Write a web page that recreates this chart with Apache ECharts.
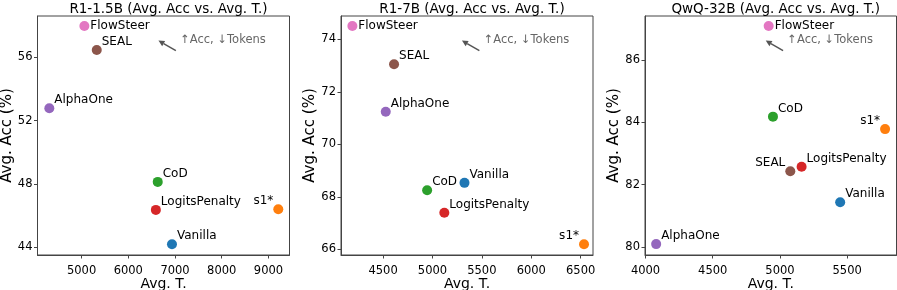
<!DOCTYPE html>
<html>
<head>
<meta charset="utf-8">
<script src="https://cdn.jsdelivr.net/npm/echarts@6/dist/echarts.min.js"></script>
<style>
html,body{margin:0;padding:0;background:#fff;}
#c{width:897px;height:290px;}
</style>
</head>
<body>
<div id="c"></div>
<script>
// ---- data ----
const methods = ['Vanilla', 's1*', 'CoD', 'LogitsPenalty', 'AlphaOne', 'SEAL', 'FlowSteer'];
const panelTitles = ['R1-1.5B (Avg. Acc vs. Avg. T.)', 'R1-7B (Avg. Acc vs. Avg. T.)', 'QwQ-32B (Avg. Acc vs. Avg. T.)'];
const tokensR1_1_5B = [6935, 9210, 6630, 6590, 4310, 5325, 5060];
const accR1_1_5B    = [44.19, 46.40, 48.13, 46.36, 52.78, 56.46, 57.98];
const tokensR1_7B   = [5324, 6534, 4946, 5120, 4527, 4611, 4189];
const accR1_7B      = [68.53, 66.19, 68.25, 67.39, 71.24, 73.05, 74.51];
const tokensQwQ32B  = [5448, 5782, 4948, 5161, 4079, 5077, 4916];
const accQwQ32B     = [81.43, 83.78, 84.18, 82.57, 80.09, 82.43, 87.09];
const xTicks = [[5000, 6000, 7000, 8000, 9000], [4500, 5000, 5500, 6000, 6500], [4000, 4500, 5000, 5500]];
const yTicks = [[44, 48, 52, 56], [66, 68, 70, 72, 74], [80, 82, 84, 86]];
const xRanges = [[4057, 9450], [4074, 6625], [3996, 5867]];
const yRanges = [[43.51, 58.61], [65.78, 74.89], [79.74, 87.41]];
const annotationText = '\u2191Acc, \u2193Tokens';
const xName = 'Avg. T.';
const yName = 'Avg. Acc (%)';

// ---- styling ----
const colors = {
  'Vanilla': '#1f77b4', 's1*': '#ff7f0e', 'CoD': '#2ca02c', 'LogitsPenalty': '#d62728',
  'AlphaOne': '#9467bd', 'SEAL': '#8c564b', 'FlowSteer': '#e377c2'
};
// label placement per panel: 'ur' up-right, 'ul' up-left, 'r' right
const placements = [
  {'s1*': 'ul', 'FlowSteer': 'r'},
  {'s1*': 'ul', 'FlowSteer': 'r'},
  {'s1*': 'ul', 'SEAL': 'ul', 'FlowSteer': 'r'}
];
const FONT = 'DejaVu Sans';
const grids = [
  {left: 37.5, top: 16, width: 252, height: 239},
  {left: 341, top: 16, width: 252, height: 239},
  {left: 645, top: 16, width: 251.5, height: 239}
];
const tokens = [tokensR1_1_5B, tokensR1_7B, tokensQwQ32B];
const accs = [accR1_1_5B, accR1_7B, accQwQ32B];
const spine = '#444';

function labelFor(p) {
  if (p === 'r') return {position: 'right', distance: 1, offset: [0, 0]};
  if (p === 'ul') return {position: 'left', distance: 0, offset: [0, -8]};
  return {position: 'right', distance: 0, offset: [0, -8]};
}

const option = {
  animation: false,
  backgroundColor: '#fff',
  textStyle: {fontFamily: FONT},
  title: panelTitles.map((t, i) => ({
    text: t, left: grids[i].left + grids[i].width / 2, top: -3, textAlign: 'center',
    textStyle: {fontFamily: FONT, fontSize: 13.5, fontWeight: 'normal', color: '#000'}
  })),
  grid: grids.map(g => Object.assign({containLabel: false, outerBoundsMode: 'none', show: true, borderColor: spine, borderWidth: 1, backgroundColor: 'transparent'}, g)),
  xAxis: grids.map((g, i) => ({
    type: 'value', gridIndex: i, min: xRanges[i][0], max: xRanges[i][1],
    name: xName, nameLocation: 'middle', nameGap: 22, nameMoveOverlap: false,
    nameTextStyle: {fontFamily: FONT, fontSize: 14, color: '#000', verticalAlign: 'top'},
    axisLine: {show: true, onZero: false, lineStyle: {color: spine, width: 1}},
    axisTick: {show: true, length: 3.5, lineStyle: {color: spine}, customValues: xTicks[i]},
    axisLabel: {fontFamily: FONT, fontSize: 11.5, color: '#000', margin: 10, customValues: xTicks[i], formatter: v => String(v)},
    splitLine: {show: false}
  })),
  yAxis: grids.map((g, i) => ({
    type: 'value', gridIndex: i, min: yRanges[i][0], max: yRanges[i][1],
    name: yName, nameLocation: 'middle', nameGap: 23, nameRotate: 90, nameMoveOverlap: false,
    nameTextStyle: {fontFamily: FONT, fontSize: 15, color: '#000'},
    axisLine: {show: true, onZero: false, lineStyle: {color: spine, width: 1}},
    axisTick: {show: true, length: 3.5, lineStyle: {color: spine}, customValues: yTicks[i]},
    axisLabel: {fontFamily: FONT, fontSize: 11.5, color: '#000', margin: 5, customValues: yTicks[i], formatter: v => String(v)},
    splitLine: {show: false}
  })),
  series: []
};

for (let i = 0; i < 3; i++) {
  methods.forEach((m, j) => {
    const lp = labelFor(placements[i][m] || 'ur');
    option.series.push({
      type: 'scatter', name: m, xAxisIndex: i, yAxisIndex: i,
      symbol: 'circle', symbolSize: 10,
      itemStyle: {color: colors[m], opacity: 1},
      label: Object.assign({show: true, formatter: m, color: '#000', fontFamily: FONT, fontSize: 12}, lp),
      data: [[tokens[i][j], accs[i][j]]]
    });
  });
}

// annotation arrow in axes-fraction coordinates
const graphic = [];
grids.forEach(g => {
  const hx = g.left + 0.48 * g.width, hy = g.top + 0.103 * g.height;
  const tx = g.left + 0.549 * g.width, ty = g.top + 0.145 * g.height;
  const ang = Math.atan2(hy - ty, hx - tx);
  const L = 6, W = 3;
  const bx = hx - L * Math.cos(ang), by = hy - L * Math.sin(ang);
  const px = -Math.sin(ang), py = Math.cos(ang);
  graphic.push({type: 'line', shape: {x1: tx, y1: ty, x2: bx, y2: by}, style: {stroke: '#555', lineWidth: 1.5}, silent: true});
  graphic.push({type: 'polygon', shape: {points: [[hx, hy], [bx + px * W, by + py * W], [bx - px * W, by - py * W]]}, style: {fill: '#555'}, silent: true});
  graphic.push({type: 'text', x: g.left + 0.566 * g.width, y: g.top + 0.1 * g.height,
    style: {text: annotationText, fill: '#666', font: '11.5px "DejaVu Sans"', textVerticalAlign: 'middle', textAlign: 'left'}, silent: true});
});
option.graphic = graphic;

const chart = echarts.init(document.getElementById('c'), null, {renderer: 'canvas'});
chart.setOption(option);
</script>
</body>
</html>
